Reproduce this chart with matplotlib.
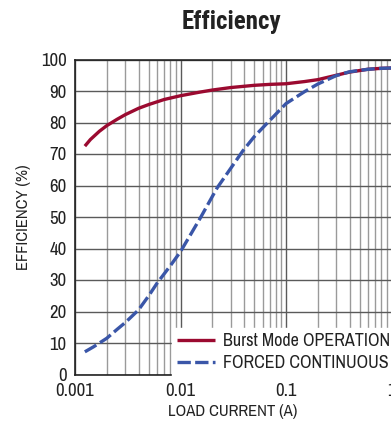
import numpy as np
import matplotlib.pyplot as plt
from matplotlib.ticker import LogLocator, FixedLocator, NullFormatter

# load current (A) and efficiency (%) for the two operating modes
burst_current = [0.00124, 0.0014, 0.0017, 0.002, 0.0025, 0.003, 0.004, 0.005, 0.007,
                 0.01, 0.015, 0.02, 0.03, 0.05, 0.07, 0.1, 0.15, 0.2, 0.3, 0.4, 0.6, 0.8, 1.0]
burst_eff = [72.5, 74.6, 77.2, 79.0, 81.0, 82.5, 84.5, 85.7, 87.3,
             88.5, 89.6, 90.3, 91.1, 91.8, 92.1, 92.3, 93.0, 93.6, 95.0, 96.0, 96.9, 97.2, 97.3]

fcm_current = [0.00124, 0.0015, 0.002, 0.0025, 0.003, 0.004, 0.005, 0.006, 0.008,
               0.01, 0.0125, 0.0156, 0.0222, 0.03, 0.039, 0.05, 0.065, 0.082, 0.1,
               0.15, 0.2, 0.3, 0.4, 0.6, 0.8, 1.0]
fcm_eff = [7.2, 8.8, 11.5, 14.3, 16.5, 20.5, 25.0, 29.0, 34.5,
           39.0, 44.5, 50.0, 59.2, 65.5, 71.0, 75.5, 79.5, 83.0, 86.0,
           89.8, 92.2, 94.9, 96.1, 96.9, 97.2, 97.3]

x_ticks = [0.001, 0.01, 0.1, 1, 10]
x_tick_labels = ['0.001', '0.01', '0.1', '1', '10']
y_ticks = list(range(0, 101, 10))

plt.rcParams['font.family'] = ['Archivo Narrow', 'DejaVu Sans']

RED = '#9b0a30'
BLUE = '#3a56a8'
INK = '#222222'

fig = plt.figure(figsize=(3.91, 4.29), dpi=100)
# plot area runs past the right edge of the figure (out to 10 A)
ax = fig.add_axes([75 / 391, 54.5 / 429, 422 / 391, 315 / 429])
ax.set_xscale('log')
ax.set_xlim(0.001, 10)
ax.set_ylim(0, 100)

ax.xaxis.set_major_locator(FixedLocator(x_ticks))
ax.set_xticklabels(x_tick_labels)
ax.xaxis.set_minor_locator(LogLocator(base=10, subs=np.arange(2, 10)))
ax.xaxis.set_minor_formatter(NullFormatter())
ax.set_yticks(y_ticks)

ax.grid(which='major', axis='both', color='#5a5a5a', linewidth=1.0)
ax.grid(which='minor', axis='x', color='#9a9a9a', linewidth=1.0)
ax.set_axisbelow(True)
ax.tick_params(which='both', length=0, labelsize=13.5, colors=INK)
ax.tick_params(axis='x', pad=6)
ax.tick_params(axis='y', pad=6)
for sp in ax.spines.values():
    sp.set_color(INK)
    sp.set_linewidth(1.2)

ax.plot(burst_current, burst_eff, color=RED, linewidth=2.4, solid_capstyle='butt',
        label='Burst Mode OPERATION', zorder=3)
ax.plot(fcm_current, fcm_eff, color=BLUE, linewidth=2.4, dashes=(4, 1.3),
        label='FORCED CONTINUOUS', zorder=4)

ax.set_xlabel('LOAD CURRENT (A)', fontsize=12, color=INK)
ax.set_ylabel('EFFICIENCY (%)', fontsize=12, color=INK)
ax.xaxis.set_label_coords((233 - 75) / 422, -0.095)
ax.yaxis.set_label_coords(-0.105, 0.5)

fig.text(231 / 391, 1 - 22 / 429, 'Efficiency', fontsize=18, fontweight='bold',
         family=['Roboto Condensed', 'DejaVu Sans'],
         ha='center', va='center', color=INK)

leg = fig.legend(loc='upper left', bbox_to_anchor=(172 / 391, 1 - 328 / 429),
                 frameon=True, fancybox=False, framealpha=1, edgecolor='white',
                 fontsize=13, handlelength=2.1, handletextpad=0.4,
                 borderpad=0.3, labelspacing=0.3, borderaxespad=0)
for t in leg.get_texts():
    t.set_color(INK)

fig.savefig('out.png', dpi=100)
